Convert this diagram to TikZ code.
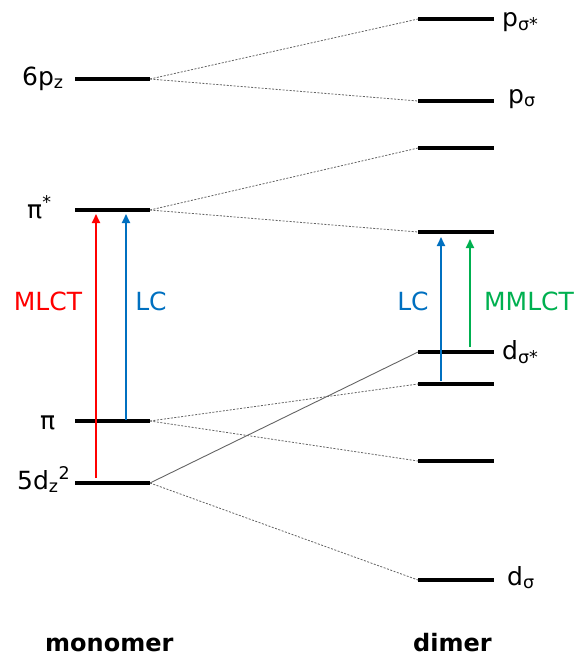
\documentclass[tikz,border=0pt]{standalone}
\usepackage{fontspec}
\setmainfont{DejaVu Sans}
\usetikzlibrary{arrows.meta}
\definecolor{cred}{RGB}{255,0,0}
\definecolor{cblue}{RGB}{0,112,192}
\definecolor{cgreen}{RGB}{0,176,80}
\definecolor{cgray}{RGB}{100,100,100}
\begin{document}
\begin{tikzpicture}[x=1pt,y=-1pt,
  level/.style={line width=3.5pt},
  corr/.style={cgray,line width=0.8pt,dash pattern=on 2pt off 1.5pt},
  corrsolid/.style={cgray,line width=0.9pt},
  trans/.style={line width=1.8pt,-{Triangle[length=9pt,width=8pt]}},
  lab/.style={inner sep=0pt,font=\fontsize{25}{29}\selectfont},
  blab/.style={inner sep=0pt,font=\fontsize{24}{28}\selectfont\bfseries}]
\useasboundingbox (0,0) rectangle (585,657);
% monomer levels
\coordinate (m1L) at (75,79);  \coordinate (m1R) at (150,79);
\coordinate (m2L) at (75,210); \coordinate (m2R) at (150,210);
\coordinate (m3L) at (75,421); \coordinate (m3R) at (150,421);
\coordinate (m4L) at (75,483); \coordinate (m4R) at (150,483);
% dimer levels
\coordinate (d1L) at (418,19);  \coordinate (d1R) at (494,19);
\coordinate (d2L) at (418,101); \coordinate (d2R) at (494,101);
\coordinate (d3L) at (418,148); \coordinate (d3R) at (494,148);
\coordinate (d4L) at (418,232); \coordinate (d4R) at (494,232);
\coordinate (d5L) at (418,352); \coordinate (d5R) at (494,352);
\coordinate (d6L) at (418,384); \coordinate (d6R) at (494,384);
\coordinate (d7L) at (418,461); \coordinate (d7R) at (494,461);
\coordinate (d8L) at (418,580); \coordinate (d8R) at (494,580);
% correlation lines
\draw[corr] (m1R) -- (d1L);
\draw[corr] (m1R) -- (d2L);
\draw[corr] (m2R) -- (d3L);
\draw[corr] (m2R) -- (d4L);
\draw[corr] (m3R) -- (d6L);
\draw[corr] (m3R) -- (d7L);
\draw[corrsolid] (m4R) -- (d5L);
\draw[corr] (m4R) -- (d8L);
% levels
\foreach \n in {m1,m2,m3,m4,d1,d2,d3,d4,d5,d6,d7,d8}
  \draw[level] (\n L) -- (\n R);
% transitions
\coordinate (a1s) at (96,478);  \coordinate (a1e) at (96,214);
\coordinate (a2s) at (126,420); \coordinate (a2e) at (126,214);
\coordinate (a3s) at (441,381); \coordinate (a3e) at (441,237);
\coordinate (a4s) at (470,347); \coordinate (a4e) at (470,239);
\draw[trans,cred] (a1s) -- (a1e);
\draw[trans,cblue] (a2s) -- (a2e);
\draw[trans,cblue] (a3s) -- (a3e);
\draw[trans,cgreen] (a4s) -- (a4e);
% transition labels
\node[lab,text=cred] (tMLCT) at (48,301) {MLCT};
\node[lab,text=cblue] (tLC1) at (151,301) {LC};
\node[lab,text=cblue] (tLC2) at (413,301) {LC};
\node[lab,text=cgreen] (tMMLCT) at (529,301) {MMLCT};
% level labels
\node[lab,anchor=base west] (l6p) at (22,85) {6p\textsubscript{z}};
\node[lab,anchor=base west] (lpis) at (27,218) {π\textsuperscript{*}};
\node[lab,anchor=base west] (lpi) at (40,429) {π};
\node[lab,anchor=base west] (l5d) at (17,489) {5d\textsubscript{z}\textsuperscript{2}};
\node[lab,anchor=base west] (lps) at (502,26) {p\textsubscript{σ*}};
\node[lab,anchor=base west] (lp) at (508,103) {p\textsubscript{σ}};
\node[lab,anchor=base west] (lds) at (502,359) {d\textsubscript{σ*}};
\node[lab,anchor=base west] (ld) at (507,585) {d\textsubscript{σ}};
% captions
\node[blab,anchor=base west] (mono) at (45,651) {monomer};
\node[blab,anchor=base west] (dim) at (413,651) {dimer};
\end{tikzpicture}
\end{document}
